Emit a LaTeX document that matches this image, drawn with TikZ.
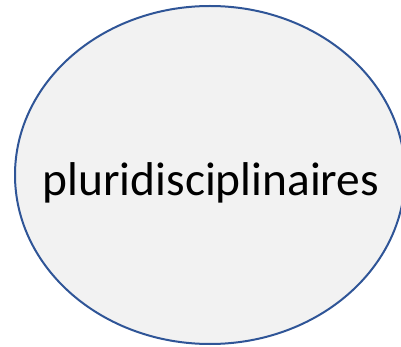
\documentclass[tikz,border=0pt]{standalone}
\usepackage{fontspec}
\setmainfont{Carlito}
\usetikzlibrary{shapes.geometric}
\definecolor{edgeblue}{HTML}{2F5597}
\definecolor{fillgray}{HTML}{F2F2F2}
\tikzset{
  bubble/.style={ellipse, draw=edgeblue, fill=fillgray, line width=2pt, inner sep=0pt, outer sep=0pt, minimum width=390pt, minimum height=338pt},
  label text/.style={anchor=base, inner sep=0pt, font=\fontsize{47.4}{56}\selectfont, text=black}
}
\begin{document}
\begin{tikzpicture}[x=1pt,y=-1pt]
\useasboundingbox (0,0) rectangle (401,347);
\node[bubble] (e) at (210,175) {};
\node[label text] (t) at (211,196) {pluridisciplinaires};
\end{tikzpicture}
\end{document}
